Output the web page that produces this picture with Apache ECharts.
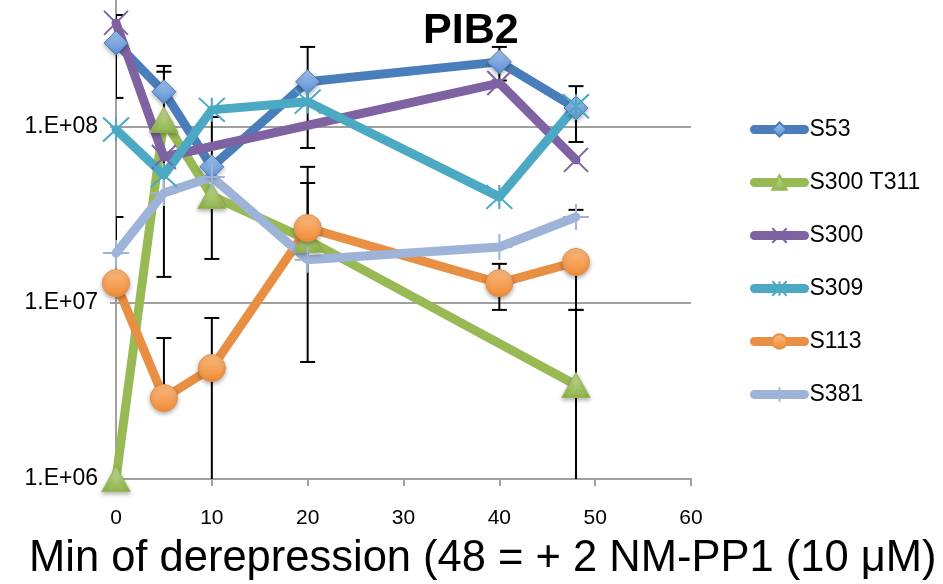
<!DOCTYPE html>
<html>
<head>
<meta charset="utf-8">
<script src="https://cdn.jsdelivr.net/npm/echarts@6/dist/echarts.min.js"></script>
<style>
html,body{margin:0;padding:0;background:#fff;overflow:hidden;width:943px;height:584px;}
#wrap{position:relative;width:943px;height:584px;overflow:hidden;}
#chart{position:absolute;left:0;top:-50px;width:943px;height:634px;}
</style>
</head>
<body>
<div id="wrap"><div id="chart"></div></div>
<script>
// ---- data ----
const seriesNames = ['S53', 'S300 T311', 'S300', 'S309', 'S113', 'S381'];
const xS53 = [0, 5, 10, 20, 40, 48];
const yS53 = [2.97e8, 1.57e8, 5.89e7, 1.79e8, 2.32e8, 1.27e8];
const xS300T311 = [0, 5, 10, 20, 48];
const yS300T311 = [1.0e6, 1.09e8, 4.03e7, 2.27e7, 3.41e6];
const xS300 = [0, 5, 40, 48];
const yS300 = [3.86e8, 6.7e7, 1.76e8, 6.45e7];
const xS309 = [0, 5, 10, 20, 40, 48];
const yS309 = [9.6e7, 5.3e7, 1.24e8, 1.38e8, 3.98e7, 1.3e8];
const xS113 = [0, 5, 10, 20, 40, 48];
const yS113 = [1.29e7, 2.88e6, 4.26e6, 2.65e7, 1.29e7, 1.70e7];
const xS381 = [0, 5, 10, 20, 40, 48];
const yS381 = [1.91e7, 4.19e7, 5.16e7, 1.75e7, 2.07e7, 3.06e7];
// error bars: x, low, high (low below the axis minimum is clipped)
const errX    = [0,      0,      5,      5,      5,      10,     10,     20,     20,     20,     40,     40,     48,     48,     48,     48];
const errLow  = [1.45e8, 1.91e7, 1.57e8, 1.40e7, 2.88e6, 1.77e7, 3.5e5,  7.54e7, 4.61e6, 2.27e7, 1.82e8, 9.1e6,  8.15e7, 3.06e7, 9.1e6,  3.5e5];
const errHigh = [4.28e8, 3.06e7, 2.20e8, 2.04e8, 6.3e6,  1.13e8, 8.19e6, 2.82e8, 4.77e7, 5.89e7, 2.82e8, 1.66e7, 1.69e8, 3.36e7, 1.7e7,  9.1e6];
const xTicks = [0, 10, 20, 30, 40, 50, 60];
const yMin = 1e6, yMax = 1e9;
const titleText = 'PIB2';
const xTitle = 'Min of derepression (48 = + 2 NM-PP1 (10 μM)';

// ---- styles ----
const FONT = 'Liberation Sans';
const OFF = 50; // chart canvas is shifted up by this many px
const colors = ['#4A7EBB', '#98B954', '#7F62A1', '#4BA9C3', '#E88F43', '#9DB3D8'];
const markerFill = [
  {type:'linear',x:0,y:0,x2:0,y2:1,colorStops:[{offset:0,color:'#A3C4EF'},{offset:1,color:'#5B8FD1'}]},
  {type:'linear',x:0,y:0,x2:0,y2:1,colorStops:[{offset:0,color:'#C9E09B'},{offset:1,color:'#8FB44A'}]},
  '#7F62A1', '#4BA9C3',
  {type:'linear',x:0,y:0,x2:0,y2:1,colorStops:[{offset:0,color:'#FBBB82'},{offset:1,color:'#F08B35'}]},
  '#9DB3D8'
];
const symbols = [
  'diamond',
  'triangle',
  'path://M0,0L10,10M10,0L0,10',
  'path://M0,0L10,10M10,0L0,10M5,0L5,10',
  'circle',
  'path://M5,0L5,10M0,5L10,5'
];
const symbolSizes = [[24,24],[28,25],[24,24],[26,24],[27,27],[26,26]];

function pairs(xs, ys){ return xs.map((x,i)=>[x, ys[i]]); }
const allData = [pairs(xS53,yS53), pairs(xS300T311,yS300T311), pairs(xS300,yS300), pairs(xS309,yS309), pairs(xS113,yS113), pairs(xS381,yS381)];

const lineSeries = seriesNames.map((name, i) => {
  const isStroke = i === 2 || i === 3 || i === 5;
  return {
    name, type:'line', data: allData[i], z: 3,
    symbol: symbols[i], symbolSize: symbolSizes[i],
    lineStyle:{color: colors[i], width: 9, cap:'round', join:'round'},
    itemStyle: isStroke
      ? {color: colors[i], borderColor: colors[i], borderWidth: 2}
      : {color: markerFill[i], borderColor: colors[i], borderWidth: 1, shadowBlur: 4, shadowColor:'rgba(0,0,0,0.3)', shadowOffsetY: 2},
    emphasis:{disabled:true},
    animation:false
  };
});

const errData = errX.map((x,i)=>[x, errLow[i], errHigh[i]]);
const errSeries = {
  type:'custom', name:'err', z: 2, clip: true, animation:false, silent:true,
  data: errData,
  renderItem: function(params, api){
    const x = api.value(0), lo = api.value(1), hi = api.value(2);
    const pLo = api.coord([x, lo]);
    const pHi = api.coord([x, hi]);
    const hw = 7.5;
    const st = {stroke:'#000', lineWidth:2};
    return {type:'group', children:[
      {type:'line', shape:{x1:pLo[0],y1:pLo[1],x2:pHi[0],y2:pHi[1]}, style:st},
      {type:'line', shape:{x1:pLo[0]-hw,y1:pLo[1],x2:pLo[0]+hw,y2:pLo[1]}, style:st},
      {type:'line', shape:{x1:pHi[0]-hw,y1:pHi[1],x2:pHi[0]+hw,y2:pHi[1]}, style:st}
    ]};
  }
};

const chart = echarts.init(document.getElementById('chart'), null, {renderer:'canvas'});
chart.setOption({
  backgroundColor:'#fff',
  animation:false,
  title:[
    {text:titleText, left:418, top:OFF+5, textStyle:{fontFamily:FONT, fontSize:43, fontWeight:'bold', color:'#000'}},
    {text:xTitle, left:24, top:OFF+532, textStyle:{fontFamily:FONT, fontSize:43.5, fontWeight:'normal', color:'#000'}}
  ],
  legend:{
    orient:'vertical', left:745, top:OFF+113, itemWidth:50, itemHeight:18, itemGap:30,
    padding:5,
    data: seriesNames,
    lineStyle:{width:9, cap:'round'},
    textStyle:{fontFamily:FONT, fontSize:23, color:'#000', lineHeight:22},
    selectedMode:false
  },
  grid:{left:116, right:252, top:0, bottom:105, containLabel:false, outerBoundsMode:'none'},
  xAxis:{
    type:'value', min:xTicks[0], max:xTicks[xTicks.length-1], interval:10,
    axisLine:{show:true, lineStyle:{color:'#A0A0A0', width:2}},
    axisTick:{show:true, length:7, lineStyle:{color:'#A0A0A0', width:2}},
    splitLine:{show:false},
    axisLabel:{fontFamily:FONT, fontSize:21, color:'#000', margin:29}
  },
  yAxis:{
    type:'log', logBase:10, min:yMin, max:yMax,
    axisLine:{show:true, lineStyle:{color:'#A0A0A0', width:2}},
    axisTick:{show:true, length:6, lineStyle:{color:'#A0A0A0', width:2}},
    splitLine:{show:true, lineStyle:{color:'#A0A0A0', width:2}},
    axisLabel:{fontFamily:FONT, fontSize:23, color:'#000', margin:18,
      formatter: v => '1.E+' + String(Math.round(Math.log10(v))).padStart(2,'0')}
  },
  series:[errSeries].concat(lineSeries)
});
</script>
</body>
</html>
